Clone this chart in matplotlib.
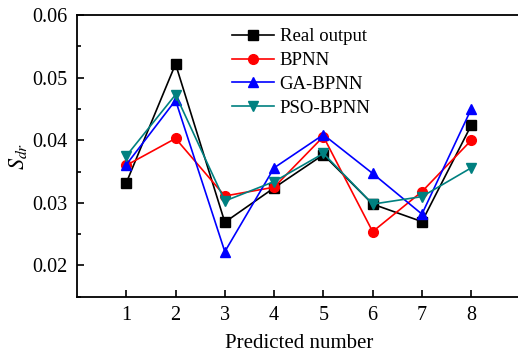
import matplotlib
matplotlib.use("Agg")
import matplotlib.pyplot as plt
from matplotlib.ticker import MultipleLocator

x = [1, 2, 3, 4, 5, 6, 7, 8]
real_output = [0.0332, 0.0522, 0.0269, 0.0324, 0.0377, 0.0298, 0.0270, 0.0424]
bpnn = [0.0360, 0.0403, 0.0311, 0.0325, 0.0406, 0.0254, 0.0318, 0.0400]
ga_bpnn = [0.0361, 0.0464, 0.0222, 0.0356, 0.0409, 0.0347, 0.0282, 0.0450]
pso_bpnn = [0.0375, 0.0473, 0.0303, 0.0334, 0.0379, 0.0298, 0.0310, 0.0356]
yticks = [0.02, 0.03, 0.04, 0.05, 0.06]
yticklabels = ["0.02", "0.03", "0.04", "0.05", "0.06"]

plt.rcParams['font.family'] = ['Liberation Serif', 'DejaVu Serif']
plt.rcParams['mathtext.fontset'] = 'stix'

fig = plt.figure(figsize=(5.18, 3.54), dpi=100)
ax = fig.add_axes([77/518, 1 - 296.7/354, (520.5 - 77)/518, (296.7 - 15.2)/354])

ax.plot(x, real_output, color='black', marker='s', ms=6.5, lw=1.2, label='Real output')
ax.plot(x, bpnn, color='#ff0000', marker='o', ms=7, lw=1.2, label='BPNN')
ax.plot(x, ga_bpnn, color='#0000ff', marker='^', ms=7.5, lw=1.2, label='GA-BPNN')
ax.plot(x, pso_bpnn, color='#008080', marker='v', ms=7.5, lw=1.2, label='PSO-BPNN')

ax.set_xlim(0, 9)
ax.set_ylim(0.015, 0.06)
ax.set_xticks(x)
ax.set_yticks(yticks)
ax.set_yticklabels(yticklabels)
ax.yaxis.set_minor_locator(MultipleLocator(0.005))
ax.tick_params(which='both', direction='in', labelsize=14.5, width=1.2, pad=7)
ax.tick_params(which='major', length=5)
ax.tick_params(which='minor', length=3)
for s in ax.spines.values():
    s.set_linewidth(1.3)

ax.set_xlabel('Predicted number', fontsize=15, labelpad=6)
ax.set_ylabel(r'$S_{dr}$', fontsize=16, labelpad=2)

leg = ax.legend(loc='upper left', bbox_to_anchor=(0.319, 1.0), frameon=False,
                fontsize=13.5, handlelength=2.24, handletextpad=0.32, labelspacing=0.35,
                borderaxespad=0.3)

fig.savefig('out.png', dpi=100)
